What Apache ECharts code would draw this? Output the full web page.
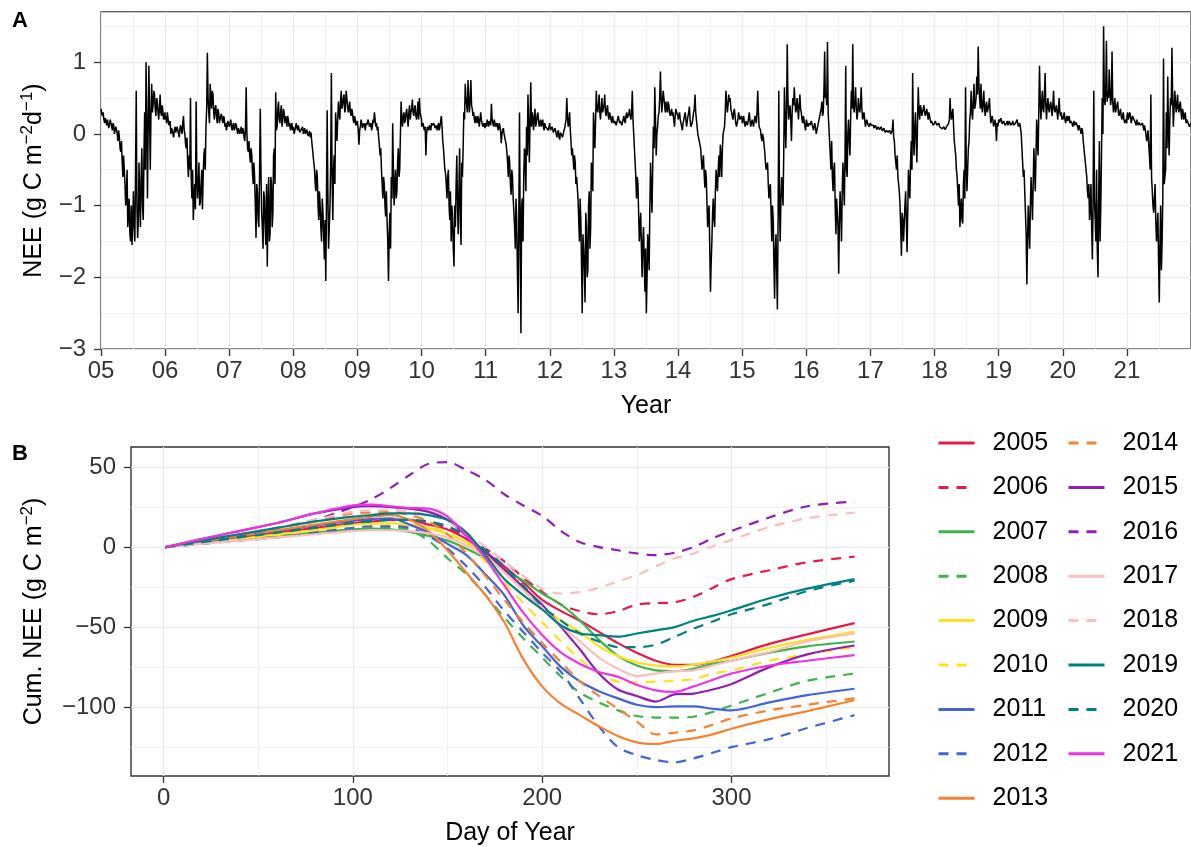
<!DOCTYPE html>
<html><head><meta charset="utf-8">
<script src="https://cdn.jsdelivr.net/npm/echarts@6/dist/echarts.min.js"></script>
<style>html,body{margin:0;padding:0;background:#fff;}#c{width:1191px;height:847px;}</style>
</head><body><div id="c"></div>
<script>
// ---------- Panel A: NEE, g C m-2 d-1; two readings per 8-day block (day 1+8i and day 5+8i) ----------
const YEARS = [2005,2006,2007,2008,2009,2010,2011,2012,2013,2014,2015,2016,2017,2018,2019,2020,2021];
const STEP_DAYS = 8;
const NEE_2005 = [0.35,0.25,0.2,0.22,0.12,0.18,0.1,0.15,0.05,0.12,0.02,0.08,-0.1,-0.05,-0.25,-0.4,-0.3,-0.7,-0.85,-1.3,-0.9,-1.5,-1.55,-0.8,-1.5,0.6,-1.45,-0.4,-1.3,-0.2,-1.2,0.3,1.0,-0.9,0.95,-0.5,0.7,0.4,0.55,0.25,0.45,0.2,0.55,0.25,0.3,0.22];
const NEE_2005_MID = [0.28,0.3,0.15,0.18,0.2,0.08,0.2,0.1,0.15,0.0,0.1,0.0,0.05,-0.2,-0.1,-0.6,-0.5,-1.0,-0.5,-1.1,-1.4,-1.0,-1.2,-1.3,-0.6,-1.0,-1.2,-0.9,-0.6,-1.0,-0.3,-0.5,0.2,0.1,0.2,0.3,0.3,0.6,0.35,0.5,0.3,0.35,0.3,0.4,0.2,0.3];
const NEE_2006 = [0.2,0.15,0.22,0.1,0.0,0.05,-0.05,0.1,0.0,0.05,-0.05,0.12,0.0,0.25,0.0,-0.2,-0.4,-0.3,0.5,-0.9,-1.2,-0.7,0.45,-0.9,-0.4,-0.95,-0.5,-0.6,-0.2,0.1,1.13,0.3,0.7,0.35,0.55,0.2,0.4,0.15,0.3,0.2,0.28,0.15,0.22,0.15,0.1,0.15];
const NEE_2006_MID = [0.25,0.3,0.12,0.18,0.08,0.0,0.05,0.02,0.1,0.0,0.08,0.05,0.15,0.05,-0.15,-0.05,-0.6,-0.5,-0.6,-0.5,-0.9,-1.05,-0.6,-0.7,-1.0,-0.7,-1.05,-0.3,-0.5,0.35,0.5,0.15,0.5,0.6,0.3,0.35,0.25,0.35,0.15,0.25,0.2,0.25,0.1,0.05,0.18,0.1];
const NEE_2007 = [0.1,0.2,0.05,0.15,0.08,0.12,0.0,0.1,0.05,0.0,0.05,-0.1,0.65,-0.2,-0.1,-0.4,-0.3,-0.7,-0.6,-1.45,-0.8,-1.3,0.35,-1.1,-1.6,-0.9,-1.55,-1.85,-0.6,-1.4,-0.7,-1.1,-0.2,0.58,0.1,0.45,0.15,0.4,0.2,0.3,0.25,0.1,0.2,0.15,0.1,0.05];
const NEE_2007_MID = [0.15,0.1,0.12,0.05,0.15,0.05,0.08,0.0,0.1,0.08,-0.05,0.1,0.0,-0.25,-0.3,-0.2,-0.55,-0.4,-1.0,-0.7,-1.2,-0.6,-0.5,-1.3,-0.8,-1.3,-0.7,-1.0,-1.5,-0.6,-1.3,-0.3,-0.7,0.05,0.35,0.2,0.3,0.1,0.35,0.15,0.2,0.25,0.1,0.05,0.15,0.1];
const NEE_2008 = [0.1,0.05,0.15,0.05,0.1,0.0,0.05,0.0,0.08,-0.02,0.05,0.0,-0.05,-0.1,-0.3,-0.5,-0.8,-0.6,-1.2,-1.0,-1.5,-1.1,-1.75,-2.05,0.33,-1.6,-1.0,0.85,-1.2,-0.3,0.3,-0.1,0.45,0.2,0.6,0.4,0.55,0.35,0.5,0.3,0.45,0.25,0.3,0.15,0.2,0.1];
const NEE_2008_MID = [0.0,0.1,0.08,0.12,0.02,0.06,0.1,0.04,0.0,0.06,-0.03,0.04,0.02,-0.2,-0.4,-0.7,-0.5,-1.0,-0.8,-1.3,-0.9,-1.4,-1.2,-1.0,-0.8,-1.3,-0.4,-0.6,-0.5,-0.7,0.1,0.2,0.3,0.45,0.35,0.5,0.3,0.6,0.4,0.35,0.3,0.35,0.2,0.25,0.12,0.18];
const NEE_2009 = [0.15,-0.15,0.1,0.15,0.1,0.12,0.15,0.1,0.18,0.12,0.05,0.2,0.3,0.1,0.05,-0.05,-0.3,-0.5,-0.9,-0.7,-1.15,-1.2,-2.05,-1.1,-0.6,0.15,-1.0,-0.5,-0.8,-0.2,-0.5,0.45,0.1,0.3,0.2,0.35,0.1,0.4,0.3,0.48,0.25,0.4,0.2,0.45,0.5,0.25];
const NEE_2009_MID = [0.05,0.05,0.2,0.08,0.15,0.05,0.12,0.2,0.1,0.15,0.1,0.15,0.2,0.15,0.1,-0.15,-0.2,-0.7,-0.6,-1.0,-0.8,-1.5,-1.4,-1.6,-0.9,-0.5,-0.7,-0.9,-0.4,-0.6,0.0,0.2,0.25,0.15,0.3,0.2,0.3,0.2,0.35,0.3,0.35,0.25,0.3,0.2,0.3,0.2];
const NEE_2010 = [0.1,0.15,0.05,-0.3,0.1,0.05,0.1,0.15,0.1,0.12,0.1,0.05,0.15,0.1,0.25,-0.1,-0.35,-0.55,-0.9,-0.5,-1.2,-1.5,-1.2,-1.85,-1.3,-0.3,-1.4,-0.2,-1.55,-0.6,0.3,0.7,0.4,0.75,0.3,0.75,0.35,0.3,0.15,0.2,0.25,0.1,0.3,0.15,0.12,0.08];
const NEE_2010_MID = [0.12,0.08,0.1,0.0,0.08,0.12,0.05,0.12,0.15,0.08,0.12,0.1,0.05,0.18,0.1,-0.2,-0.5,-0.7,-0.6,-1.0,-0.8,-1.0,-1.6,-1.0,-0.7,-1.0,-0.8,-1.2,-0.4,-0.2,0.2,0.5,0.3,0.45,0.5,0.4,0.25,0.2,0.25,0.15,0.2,0.2,0.2,0.1,0.15,0.1];
const NEE_2011 = [0.15,0.2,0.1,0.2,0.42,0.15,0.2,0.1,0.15,0.05,0.12,-0.13,0.05,0.0,-0.1,-0.25,-0.6,-0.4,-0.85,-0.6,-1.1,-1.6,-1.2,-2.5,0.3,-2.78,-0.9,-0.6,-0.3,0.1,0.55,-0.4,0.72,0.3,0.05,0.35,0.15,0.3,0.1,0.2,0.15,0.1,0.15,0.1,0.12,0.1];
const NEE_2011_MID = [0.1,0.15,0.18,0.12,0.2,0.1,0.15,0.12,0.08,0.15,0.05,0.0,0.08,-0.05,-0.15,-0.4,-0.3,-0.7,-0.5,-0.9,-1.3,-0.9,-1.9,-1.2,-1.5,-1.0,-1.5,-0.2,-0.8,-0.3,0.1,0.2,0.1,0.2,0.25,0.1,0.25,0.2,0.15,0.1,0.2,0.05,0.1,0.12,0.05,0.15];
const NEE_2012 = [0.1,0.05,0.1,0.0,0.05,-0.05,0.05,-0.08,0.0,-0.05,0.05,0.1,0.5,0.1,0.3,-0.1,-0.2,-0.5,-0.4,-0.6,-0.9,-1.5,-1.2,-2.5,-1.6,-2.35,-1.3,-1.9,-0.8,-1.3,-0.6,0.3,-0.2,0.6,0.3,0.55,0.2,0.5,0.3,0.55,0.25,0.4,0.2,0.3,0.15,0.2];
const NEE_2012_MID = [0.05,0.1,0.02,0.08,0.0,0.02,-0.05,0.02,-0.02,0.0,0.08,0.2,0.25,0.15,0.05,-0.3,-0.35,-0.3,-0.7,-0.75,-1.2,-0.9,-1.8,-1.4,-1.9,-1.1,-2.0,-1.0,-1.6,-0.4,-0.8,0.0,0.2,0.35,0.4,0.3,0.35,0.3,0.4,0.3,0.35,0.25,0.3,0.2,0.25,0.15];
const NEE_2013 = [0.15,0.2,0.1,0.25,0.15,0.2,0.1,0.25,0.15,0.3,0.2,0.35,0.2,0.6,0.0,-0.4,-0.9,-0.7,-1.5,-1.1,-2.0,-1.3,-2.2,-2.5,-1.4,-1.9,-0.4,-1.1,0.1,0.65,-0.3,0.1,0.3,0.87,0.3,0.6,0.4,0.45,0.3,0.4,0.25,0.35,0.3,0.1,0.35,0.3];
const NEE_2013_MID = [0.18,0.12,0.2,0.2,0.18,0.12,0.2,0.18,0.25,0.22,0.28,0.25,0.3,0.2,-0.2,-0.6,-0.6,-1.1,-1.3,-1.6,-1.5,-1.8,-1.6,-2.0,-1.6,-1.0,-0.8,-0.5,-0.2,0.2,0.0,0.25,0.5,0.5,0.45,0.5,0.3,0.35,0.45,0.3,0.3,0.25,0.2,0.25,0.3,0.25];
const NEE_2014 = [0.2,0.3,0.15,0.05,0.2,0.3,0.1,0.25,0.38,0.1,0.15,0.3,0.55,0.2,0.0,-0.1,-0.2,-0.5,-0.3,-0.75,-0.6,-1.3,-1.0,-2.2,-1.5,-0.9,-1.3,-0.5,-0.8,-0.3,-0.15,-0.6,0.0,0.1,0.6,0.3,0.55,0.5,0.3,0.2,0.35,0.15,0.1,0.3,0.2,0.25];
const NEE_2014_MID = [0.25,0.2,0.1,0.15,0.25,0.2,0.18,0.3,0.2,0.12,0.22,0.35,0.3,0.1,-0.05,-0.15,-0.35,-0.4,-0.55,-0.5,-0.95,-1.1,-1.6,-1.8,-1.1,-1.2,-0.8,-0.7,-0.5,-0.6,-0.3,-0.2,0.05,0.3,0.45,0.4,0.45,0.35,0.25,0.3,0.25,0.1,0.2,0.25,0.22,0.2];
const NEE_2015 = [0.15,0.25,0.1,0.2,0.15,0.3,0.1,0.2,0.1,0.25,0.15,0.6,0.1,0.05,-0.1,-0.05,-0.25,-0.5,-0.4,-0.9,-0.7,-1.5,-1.2,-2.3,-1.4,-2.45,0.6,-1.5,-0.6,-1.0,0.65,-0.2,1.25,0.2,0.4,-0.1,0.5,0.65,0.3,0.5,0.2,0.55,0.3,0.15,0.25,0.05];
const NEE_2015_MID = [0.2,0.15,0.18,0.12,0.22,0.18,0.15,0.15,0.18,0.2,0.3,0.3,0.08,-0.05,0.0,-0.15,-0.4,-0.45,-0.7,-0.75,-1.1,-1.0,-1.8,-1.6,-1.9,-1.2,-1.0,-0.9,-0.8,-0.3,0.2,0.3,0.5,0.3,0.2,0.3,0.4,0.45,0.35,0.35,0.4,0.35,0.2,0.25,0.12,0.15];
const NEE_2016 = [0.2,0.1,0.15,0.1,0.2,0.05,0.15,0.0,0.1,0.2,0.3,0.45,0.3,1.15,0.55,1.28,0.1,-0.3,-0.1,-0.8,-0.4,-1.4,-0.9,-1.95,-0.8,-1.5,-0.4,-1.0,0.95,-0.6,0.2,-0.3,0.6,1.25,0.3,0.65,0.2,0.5,0.3,0.65,0.2,0.3,0.1,0.2,0.15,0.12];
const NEE_2016_MID = [0.15,0.12,0.12,0.18,0.1,0.1,0.08,0.05,0.15,0.25,0.35,0.25,0.6,0.5,0.4,0.3,-0.1,-0.5,-0.6,-0.5,-1.0,-0.9,-1.3,-1.2,-1.1,-0.8,-0.7,-0.3,-0.5,0.0,-0.1,0.2,0.35,0.4,0.45,0.35,0.3,0.35,0.4,0.35,0.25,0.2,0.15,0.15,0.1,0.15];
const NEE_2017 = [0.15,0.1,0.12,0.08,0.1,0.05,0.1,0.05,0.08,0.03,0.06,0.0,0.05,0.0,0.03,-0.02,0.2,-0.1,-0.4,-0.3,-0.7,-1.0,-1.7,-1.2,-1.5,-0.8,-1.65,-0.5,-0.9,-0.1,0.85,-0.3,0.3,-0.4,0.65,0.2,0.35,0.3,0.4,0.25,0.35,0.2,0.25,0.15,0.2,0.1];
const NEE_2017_MID = [0.12,0.14,0.08,0.12,0.06,0.1,0.06,0.1,0.04,0.08,0.02,0.05,0.02,0.05,0.0,0.05,-0.05,-0.3,-0.5,-0.6,-0.8,-1.3,-1.1,-1.5,-1.0,-1.2,-1.1,-0.8,-0.4,-0.5,0.0,0.1,-0.1,0.2,0.3,0.4,0.25,0.35,0.3,0.3,0.28,0.3,0.2,0.18,0.12,0.15];
const NEE_2018 = [0.15,0.2,0.1,0.15,0.08,0.12,0.05,0.1,0.05,0.08,0.15,0.5,0.2,0.35,-0.1,-0.3,-0.6,-1.0,-1.3,-0.9,-1.25,-0.5,0.65,-0.8,-0.2,0.2,0.6,0.2,0.7,0.4,0.8,1.22,0.5,0.7,0.3,0.6,0.25,0.45,0.3,0.5,0.15,0.25,0.1,0.2,-0.1,0.1];
const NEE_2018_MID = [0.18,0.12,0.14,0.1,0.12,0.07,0.1,0.06,0.1,0.1,0.2,0.25,0.3,0.1,-0.2,-0.5,-0.8,-0.7,-1.1,-1.2,-0.7,-0.9,-0.4,-0.5,-0.1,0.3,0.3,0.45,0.35,0.5,0.55,0.7,0.35,0.4,0.45,0.35,0.4,0.3,0.4,0.3,0.2,0.18,0.15,0.12,0.15,0.12];
const NEE_2019 = [0.2,0.15,0.2,0.12,0.15,0.1,0.18,0.12,0.15,0.1,0.18,0.1,0.15,0.2,0.1,0.15,0.0,-0.4,-0.5,-1.1,-2.1,-1.0,-1.6,-0.6,-1.2,-0.2,-0.8,0.2,-0.3,0.95,0.2,0.6,0.3,0.85,0.2,0.5,0.3,0.45,0.25,0.6,0.3,0.4,0.2,0.5,0.25,0.2];
const NEE_2019_MID = [0.16,0.22,0.14,0.18,0.12,0.15,0.12,0.18,0.12,0.15,0.12,0.14,0.16,0.15,0.12,0.08,-0.2,-0.6,-0.8,-1.4,-1.5,-1.3,-1.0,-0.9,-0.7,-0.5,-0.3,-0.1,0.3,0.5,0.4,0.35,0.55,0.4,0.4,0.35,0.4,0.35,0.4,0.35,0.3,0.3,0.35,0.3,0.3,0.25];
const NEE_2020 = [0.2,0.3,0.15,0.25,0.2,0.15,0.2,0.1,0.18,0.1,0.15,0.05,0.1,0.0,0.05,-0.2,-0.4,-0.6,-0.9,-1.2,-0.7,-1.75,0.6,-1.2,-0.5,-2.0,-0.1,-1.0,0.5,1.5,0.4,1.3,0.6,0.9,0.4,1.15,0.3,0.5,0.35,0.45,0.25,0.35,0.2,0.3,0.15,0.2];
const NEE_2020_MID = [0.25,0.2,0.22,0.18,0.25,0.18,0.15,0.14,0.12,0.16,0.1,0.12,0.05,0.08,-0.1,-0.3,-0.5,-0.8,-0.7,-1.0,-1.3,-1.0,-0.9,-1.5,-1.6,-0.9,-1.5,-0.3,0.0,0.5,0.6,0.45,0.5,0.6,0.5,0.45,0.4,0.3,0.4,0.3,0.3,0.25,0.25,0.2,0.2,0.15];
const NEE_2021 = [0.25,0.2,0.3,0.15,0.25,0.2,0.15,0.2,0.12,0.18,0.1,0.15,0.05,0.1,-0.1,0.05,-0.3,0.55,-0.8,-1.1,-0.7,-1.5,-1.1,-2.35,-1.0,-1.5,1.05,-0.6,0.3,0.8,-0.3,0.5,1.2,0.1,0.6,0.3,0.55,0.3,0.45,0.2,0.3,0.25,0.15,0.2,0.15,0.12];
const NEE_2021_MID = [0.3,0.22,0.25,0.2,0.22,0.18,0.12,0.15,0.16,0.12,0.14,0.1,0.12,0.0,-0.05,-0.15,-0.5,-0.6,-1.0,-0.9,-1.2,-1.3,-1.8,-1.5,-1.9,-0.9,-0.7,-0.5,-0.2,0.1,0.2,0.4,0.5,0.35,0.45,0.4,0.35,0.4,0.3,0.35,0.2,0.3,0.2,0.15,0.1,0.15];
const NEE_BY_YEAR = [NEE_2005,NEE_2006,NEE_2007,NEE_2008,NEE_2009,NEE_2010,NEE_2011,NEE_2012,NEE_2013,NEE_2014,NEE_2015,NEE_2016,NEE_2017,NEE_2018,NEE_2019,NEE_2020,NEE_2021];
const NEE_MID_BY_YEAR = [NEE_2005_MID,NEE_2006_MID,NEE_2007_MID,NEE_2008_MID,NEE_2009_MID,NEE_2010_MID,NEE_2011_MID,NEE_2012_MID,NEE_2013_MID,NEE_2014_MID,NEE_2015_MID,NEE_2016_MID,NEE_2017_MID,NEE_2018_MID,NEE_2019_MID,NEE_2020_MID,NEE_2021_MID];
const NEE_TICKS = [-3,-2,-1,0,1];

// ---------- Panel B: cumulative NEE by day of year, g C m-2 ----------
const DOY = [1,20,40,60,80,100,110,120,130,140,150,160,170,180,190,200,210,220,230,240,250,260,270,280,290,300,320,340,365];
const CUM_2005 = [0,3,6,9,12,15,16,17,17,14,11,5,-3,-12,-22,-33,-40,-46,-53,-60,-66,-71,-73.5,-73.5,-71.5,-68,-60.5,-54.5,-47.5];
const CUM_2006 = [0,3,6,9,13,16,17,17,17,15,12,6,-1,-9,-19,-28,-36,-40,-42,-40,-36,-35,-34.5,-31,-25.5,-20,-14.5,-9.5,-6];
const CUM_2007 = [0,2.5,5,7,9,11,11.5,11,9.5,7,4,-1,-7,-14,-21,-29,-36,-46,-58,-68,-74,-77,-77.5,-76,-73,-71,-66,-62,-59];
const CUM_2008 = [0,2,4.5,7,9,11,12,12,10.5,4,-7,-17,-30,-44,-57,-69,-81,-91,-97,-102,-105.5,-106.5,-106.5,-106,-103,-99,-91,-83.5,-79];
const CUM_2009 = [0,2.5,5,8,10.5,14,14.5,15,14,12,8,3,-5,-15,-26,-38,-46,-53,-62,-68,-72,-74,-74.5,-73.5,-71.5,-69,-63,-58,-53];
const CUM_2010 = [0,2.5,5,7.5,10,12,13,13.5,13,12,9,2,-9,-22,-35,-47,-59,-70,-79,-84,-84.5,-84,-83.5,-82.5,-79,-77,-71,-67,-62.5];
const CUM_2011 = [0,3,6.5,10,13.5,16.5,17.5,18,14,9,2,-5,-17,-30,-49,-62,-75,-84,-90,-94.5,-98.5,-100,-99.5,-99.5,-101,-102,-97,-92.5,-88.5];
const CUM_2012 = [0,2,4,6,9,12,13,13,12,7,-1,-12,-25,-40,-53,-66,-78,-95,-112,-125,-130,-133,-134.5,-132,-128.5,-125,-120,-113,-105];
const CUM_2013 = [0,3.5,7,10.5,14,17.5,19,20,17,10,-2,-16,-30,-47,-70,-87,-98,-105,-112,-118,-122,-123,-121,-119.5,-117,-113.5,-107.5,-102.5,-95.5];
const CUM_2014 = [0,4,8,12,16,21,21.5,22,20,16,8,-4,-18,-33,-47,-60,-72,-84,-93,-101,-109,-117,-116,-114.5,-111,-107,-102,-98.5,-94.5];
const CUM_2015 = [0,5,10,15,21,25,25.5,25,24,22,17,7,-3,-14,-25,-36,-50,-64,-79,-89,-93,-96.5,-92,-91.5,-89,-85.5,-75,-67,-61.5];
const CUM_2016 = [0,3,7,12,17,25,30,37,45,52,53,48,42,33,26,19.5,10,3,0,-2,-4,-5,-3.5,0,5.5,10,18.5,25.5,28.5];
const CUM_2017 = [0,2,4,6,8,10,10.5,10.5,10,8.5,6,1,-6,-16,-27,-38,-49,-59,-69,-76,-80.5,-79,-77.5,-77,-74,-71,-65.5,-59,-54];
const CUM_2018 = [0,4,8,12,17,22,23,23,22,20,16,9,0,-9,-18,-26,-29,-28,-25.5,-21.5,-17.5,-12,-7,-4,0.5,4.5,12.5,18,21.5];
const CUM_2019 = [0,4,8,12,16,19,20,21,21,20,17,9,-5,-20,-30,-39,-49,-54,-55,-56,-54,-52,-50,-46,-43,-39.5,-32,-26,-20];
const CUM_2020 = [0,3,6,9,12,15,16,17,17,16,13,7,-2,-12,-24,-37,-46,-54,-59,-62.5,-62.5,-61,-56,-51,-46.5,-42,-35.5,-27.5,-21];
const CUM_2021 = [0,5,10,15,21,26,26.5,25.5,24.5,24,19,7,-7,-24,-41,-55,-66,-73,-78,-81,-86,-89.5,-90.5,-87,-83,-79,-74,-71,-67.5];
const CUM_BY_YEAR = [CUM_2005,CUM_2006,CUM_2007,CUM_2008,CUM_2009,CUM_2010,CUM_2011,CUM_2012,CUM_2013,CUM_2014,CUM_2015,CUM_2016,CUM_2017,CUM_2018,CUM_2019,CUM_2020,CUM_2021];
const DOY_TICKS = [0,100,200,300];
const CUM_TICKS = [-100,-50,0,50];
const LEGEND_COL1 = ['2005','2006','2007','2008','2009','2010','2011','2012','2013'];
const LEGEND_COL2 = ['2014','2015','2016','2017','2018','2019','2020','2021'];

// ---------- styling ----------
const FONT = "'Liberation Sans', Arial, Helvetica, sans-serif";
const PAIR_COLORS = ['#e6194b','#3cb44b','#ffe119','#4363d8','#f58231','#911eb4','#fabebe','#008080','#f032e6'];
const GRID_MAJOR = '#EBEBEB';
const minus = s => String(s).replace('-', '\u2212');

const chart = echarts.init(document.getElementById('c'), null, {renderer: 'canvas'});

const neeData = [];
YEARS.forEach((y, k) => {
  const main = NEE_BY_YEAR[k], mid = NEE_MID_BY_YEAR[k];
  main.forEach((v, i) => {
    neeData.push([y + (i * STEP_DAYS + 0.5) / 365, v]);
    if (i < mid.length) neeData.push([y + (i * STEP_DAYS + 4.5) / 365, mid[i]]);
  });
});

const tickStyle = {show: true, length: 7, lineStyle: {color: '#333', width: 1.3}};
const noLine = {show: false, onZero: false};
const labelBase = {color: '#333', fontSize: 24, fontFamily: FONT};
const titleRich = {
  a: {fontSize: 25, fontFamily: FONT, color: '#000', lineHeight: 30},
  s: {fontSize: 17, fontFamily: FONT, color: '#000', lineHeight: 16, verticalAlign: 'top'}
};

const gridLinesB = [];
[0,100,200,300].forEach(v => gridLinesB.push({xAxis: v, lineStyle: {color: GRID_MAJOR, width: 1.3, type: 'solid'}}));
[50,150,250,350].forEach(v => gridLinesB.push({xAxis: v, lineStyle: {color: GRID_MAJOR, width: 0.7, type: 'solid'}}));
[-100,-50,0,50].forEach(v => gridLinesB.push({yAxis: v, lineStyle: {color: GRID_MAJOR, width: 1.3, type: 'solid'}}));
[-125,-75,-25,25].forEach(v => gridLinesB.push({yAxis: v, lineStyle: {color: GRID_MAJOR, width: 0.7, type: 'solid'}}));

const series = [
  {
    type: 'line', xAxisIndex: 0, yAxisIndex: 0, data: neeData,
    showSymbol: false, symbol: 'none', silent: true, animation: false, sampling: null,
    lineStyle: {color: '#000', width: 1.5}, z: 3
  },
  {
    type: 'line', xAxisIndex: 2, yAxisIndex: 2, data: [], silent: true, animation: false, z: 1,
    markLine: {silent: true, z: 1, symbol: ['none','none'], label: {show: false}, animation: false, data: gridLinesB}
  }
];
YEARS.forEach((y, k) => {
  const color = PAIR_COLORS[Math.floor(k / 2)];
  const dashed = (k % 2) === 1;
  series.push({
    name: String(y), type: 'line', xAxisIndex: 2, yAxisIndex: 2,
    data: DOY.map((d, i) => [d, CUM_BY_YEAR[k][i]]),
    showSymbol: false, symbol: 'none', smooth: 0.3, silent: true, animation: false,
    lineStyle: {color: color, width: 2.2, type: dashed ? [10, 8] : 'solid'},
    itemStyle: {color: color}, z: 3
  });
});

const legendBase = {
  orient: 'vertical', itemWidth: 36, itemHeight: 14, itemGap: 18.4, selectedMode: false,
  padding: 0,
  lineStyle: {width: 3},
  itemStyle: {opacity: 0},
  textStyle: {fontSize: 25, fontFamily: FONT, color: '#000', lineHeight: 26, padding: [0, 0, 0, 13]}
};

const option = {
  backgroundColor: '#fff',
  animation: false,
  grid: [
    {left: 101, top: 12, width: 1092, height: 337, show: true, borderColor: '#333', borderWidth: 1.4, backgroundColor: 'transparent', containLabel: false},
    {left: 131, top: 447, width: 758, height: 330, show: true, borderColor: '#333', borderWidth: 1.4, backgroundColor: 'transparent', containLabel: false}
  ],
  xAxis: [
    {
      type: 'value', gridIndex: 0, min: 2005, max: 2022, interval: 1,
      axisLine: noLine, axisTick: tickStyle,
      axisLabel: Object.assign({}, labelBase, {margin: 10, showMaxLabel: false,
        formatter: v => { const y = Math.round(v) % 100; return (y < 10 ? '0' : '') + y; }}),
      splitLine: {show: true, lineStyle: {color: GRID_MAJOR, width: 1.3}},
      name: 'Year', nameLocation: 'middle', nameGap: 45,
      nameTextStyle: {fontSize: 25, fontFamily: FONT, color: '#000'}
    },
    {
      type: 'value', gridIndex: 0, min: 2005, max: 2022, interval: 0.5, position: 'bottom',
      axisLine: noLine, axisTick: {show: false}, axisLabel: {show: false},
      splitLine: {show: true, lineStyle: {color: GRID_MAJOR, width: 0.7}}
    },
    {
      type: 'value', gridIndex: 1, min: -17.2, max: 383.2,
      axisLine: noLine,
      axisTick: Object.assign({}, tickStyle, {customValues: DOY_TICKS}),
      axisLabel: Object.assign({}, labelBase, {margin: 10, customValues: DOY_TICKS}),
      splitLine: {show: false},
      name: 'Day of Year', nameLocation: 'middle', nameGap: 45,
      nameTextStyle: {fontSize: 25, fontFamily: FONT, color: '#000'}
    }
  ],
  yAxis: [
    {
      type: 'value', gridIndex: 0, min: -3, max: 1.7, interval: 1,
      axisLine: noLine,
      axisTick: Object.assign({}, tickStyle, {customValues: NEE_TICKS}),
      axisLabel: Object.assign({}, labelBase, {margin: 15, customValues: NEE_TICKS, formatter: v => minus(v)}),
      splitLine: {show: true, lineStyle: {color: GRID_MAJOR, width: 1.3}},
      name: '{a|NEE (g C m}{s|\u22122}{a|d}{s|\u22121}{a|)}', nameLocation: 'middle', nameGap: 52,
      nameTextStyle: {rich: titleRich}
    },
    {
      type: 'value', gridIndex: 0, min: -3, max: 1.7, interval: 0.5, position: 'left',
      axisLine: noLine, axisTick: {show: false}, axisLabel: {show: false},
      splitLine: {show: true, lineStyle: {color: GRID_MAJOR, width: 0.7}}
    },
    {
      type: 'value', gridIndex: 1, min: -143, max: 62.5,
      axisLine: noLine,
      axisTick: Object.assign({}, tickStyle, {customValues: CUM_TICKS}),
      axisLabel: Object.assign({}, labelBase, {margin: 15, customValues: CUM_TICKS, formatter: v => minus(v)}),
      splitLine: {show: false},
      name: '{a|Cum. NEE (g C m}{s|\u22122}{a|)}', nameLocation: 'middle', nameGap: 82,
      nameTextStyle: {rich: titleRich}
    }
  ],
  legend: [
    Object.assign({}, legendBase, {left: 937, top: 430, data: LEGEND_COL1}),
    Object.assign({}, legendBase, {left: 1067, top: 430, data: LEGEND_COL2})
  ],
  graphic: [
    {type: 'text', left: 12, top: 10, style: {text: 'A', font: 'bold 22px ' + FONT, fill: '#000'}},
    {type: 'text', left: 12, top: 443, style: {text: 'B', font: 'bold 22px ' + FONT, fill: '#000'}}
  ],
  series: series
};
chart.setOption(option);
</script>
</body></html>
